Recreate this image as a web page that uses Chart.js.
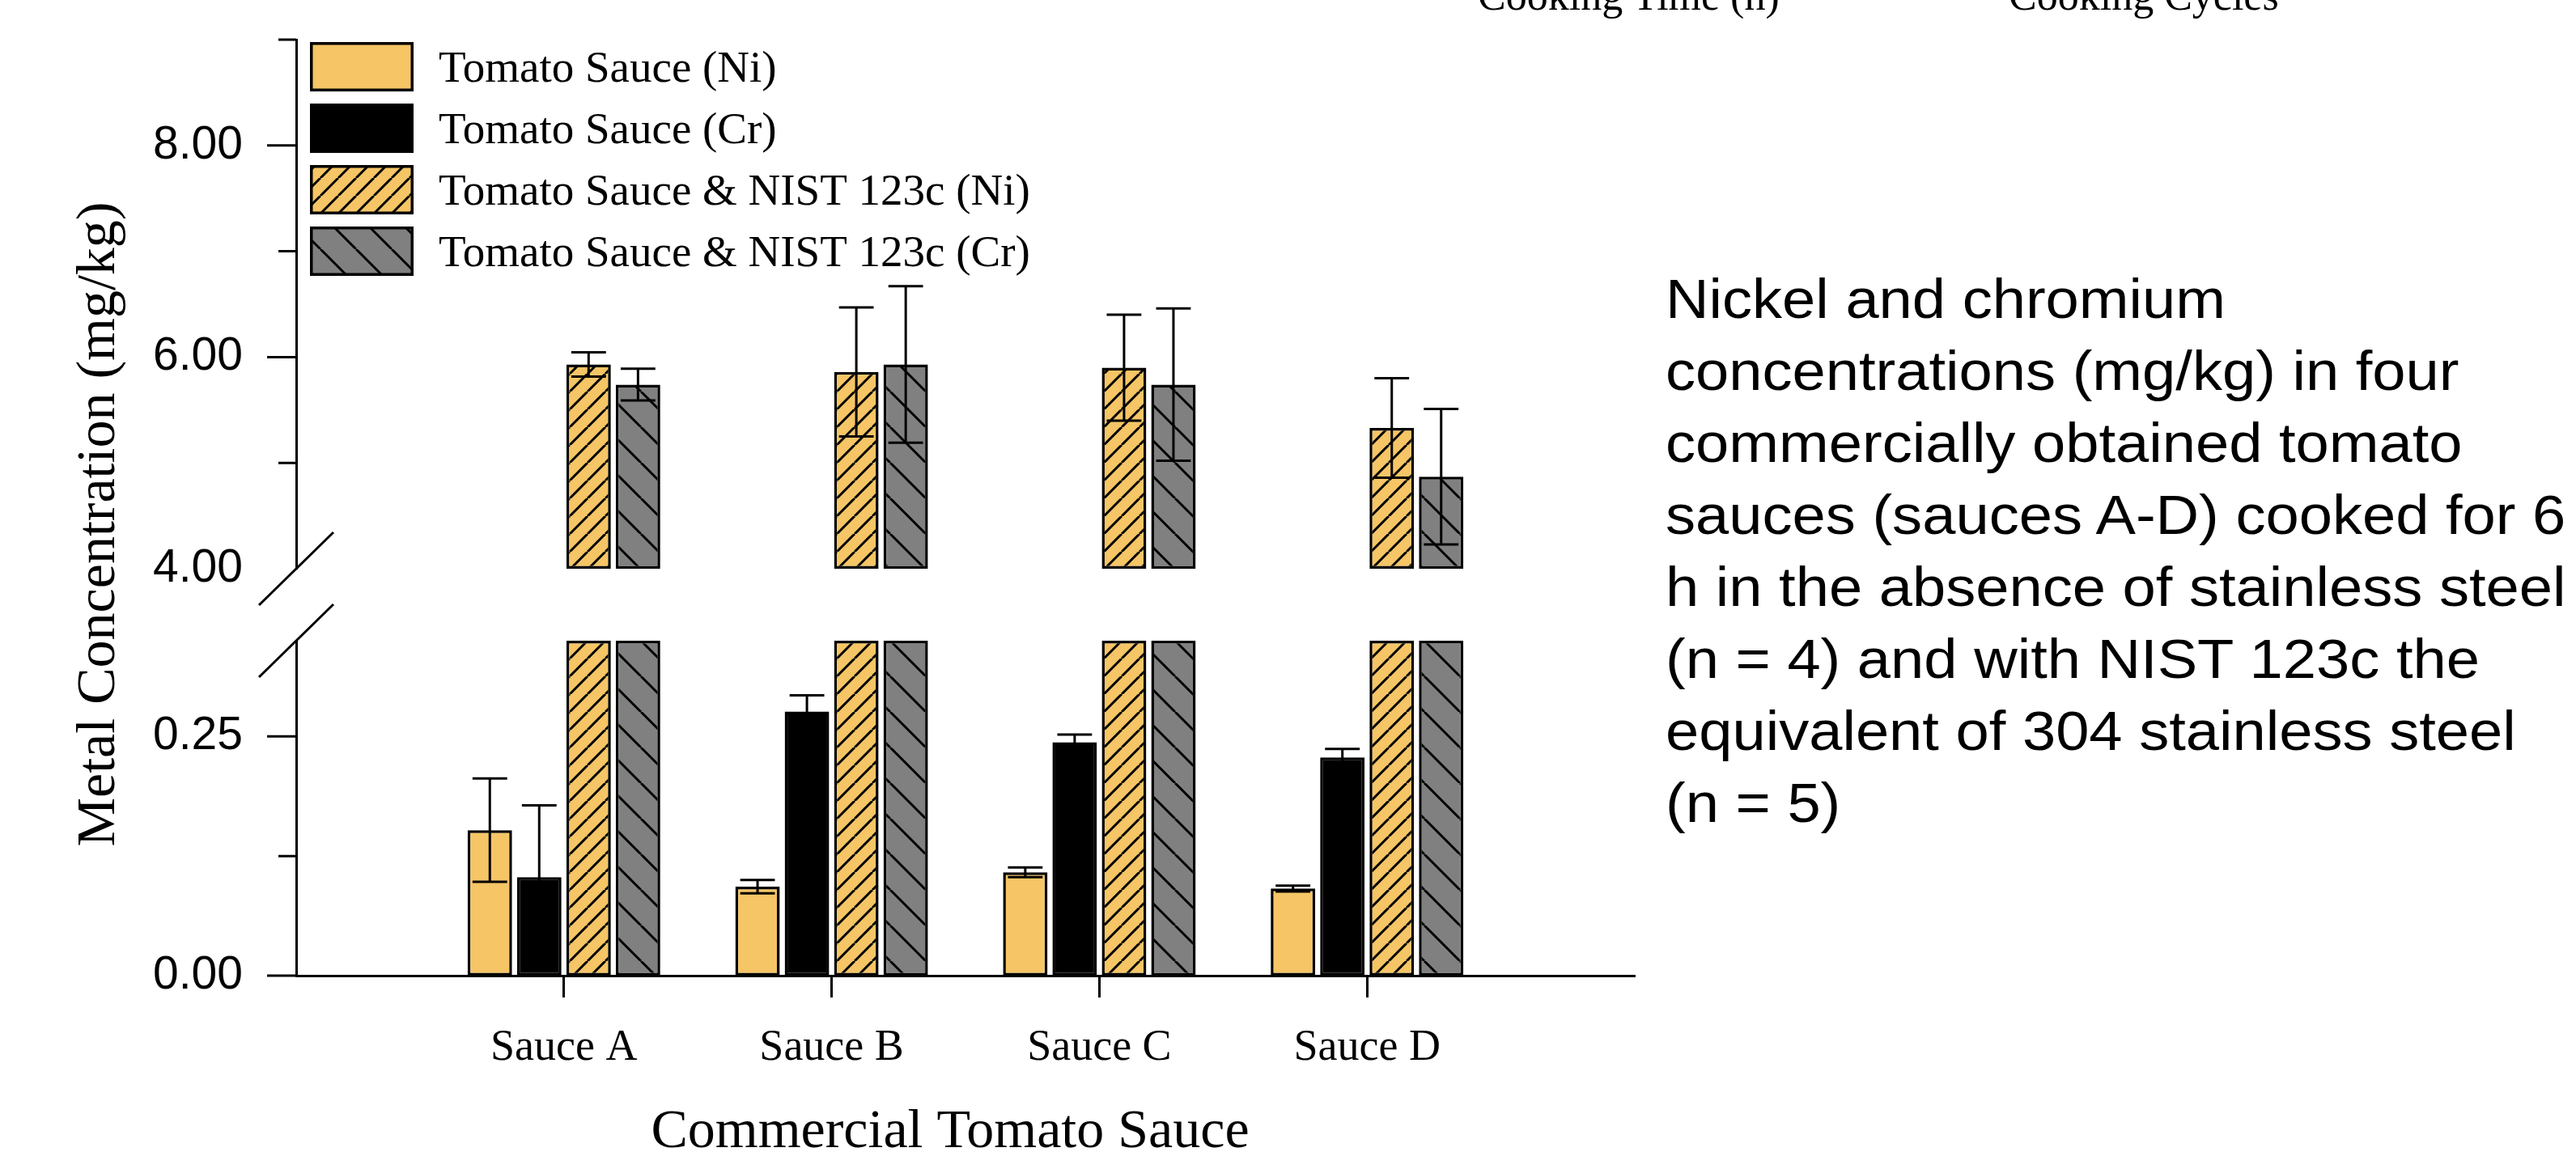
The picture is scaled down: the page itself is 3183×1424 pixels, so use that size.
<!DOCTYPE html>
<html>
<head>
<meta charset="utf-8">
<title>Metal concentration in tomato sauces</title>
<script src="https://cdn.jsdelivr.net/npm/chart.js@4.4.0/dist/chart.umd.min.js"></script>
<style>
  html, body { margin: 0; padding: 0; background: #fff; }
  #wrap { position: relative; width: 3183px; height: 1424px; overflow: hidden; background: #fff; }
  #chart { position: absolute; left: 0; top: 0; }
  .note { position: absolute; white-space: nowrap; color: #000; }
  #caption {
    left: 2058px; top: 325px;
    font-family: "Liberation Sans", Arial, sans-serif; font-size: 68px; line-height: 89px;
    transform: scaleX(1.09); transform-origin: 0 0;
  }
  .topLabel { top: -31px; font-family: "Liberation Serif", "Times New Roman", serif; font-size: 52px; line-height: 52px; }
</style>
</head>
<body>
<div id="wrap">
  <canvas id="chart" width="3183" height="1424"></canvas>
  <div class="note topLabel" style="left:1826px">Cooking Time (h)</div>
  <div class="note topLabel" style="left:2482px">Cooking Cycles</div>
  <div class="note" id="caption">Nickel and chromium<br>concentrations (mg/kg) in four<br>commercially obtained tomato<br>sauces (sauces A-D) cooked for 6<br>h in the absence of stainless steel<br>(n = 4) and with NIST 123c the<br>equivalent of 304 stainless steel<br>(n = 5)</div>
</div>
<script>
// data (mg/kg, mean and error)
const categories = ['Sauce A', 'Sauce B', 'Sauce C', 'Sauce D'];
const seriesLabels = ['Tomato Sauce (Ni)', 'Tomato Sauce (Cr)', 'Tomato Sauce & NIST 123c (Ni)', 'Tomato Sauce & NIST 123c (Cr)'];

const niSauce = [0.152, 0.093, 0.108, 0.091];
const niSauceErr = [0.054, 0.007, 0.005, 0.003];
const crSauce = [0.103, 0.276, 0.244, 0.228];
const crSauceErr = [0.075, 0.017, 0.008, 0.009];
const niNist = [5.93, 5.86, 5.90, 5.33];
const niNistErr = [0.115, 0.61, 0.50, 0.47];
const crNist = [5.74, 5.93, 5.74, 4.87];
const crNistErr = [0.15, 0.74, 0.72, 0.64];

// broken y axis: lower and upper segment
const lowRange = [0, 0.35];
const highRange = [4, 9];
const lowLabelTicks = [0, 0.25];
const lowMajorTicks = [0, 0.25];
const lowMinorTicks = [0.125];
const highLabelTicks = [4, 6, 8];
const highMajorTicks = [6, 8];
const highMinorTicks = [5, 7, 9];

const ORANGE = '#F5C566';
const GREY = '#808080';
const SERIF = '"Liberation Serif", "Times New Roman", serif';
const SANS = '"Liberation Sans", Arial, sans-serif';
const AXIS_W = 366;

function makeHatch(bg, size, dir) {
    let c = document.createElement('canvas');
    c.width = size;
    c.height = size;
    let g = c.getContext('2d');
    g.fillStyle = bg;
    g.fillRect(0, 0, size, size);
    g.strokeStyle = '#000';
    g.lineWidth = 3;
    g.beginPath();
    for (let off of [-size, 0, size]) {
        if (dir === '/') {
            g.moveTo(off, size);
            g.lineTo(off + size, 0);
        } else {
            g.moveTo(off, 0);
            g.lineTo(off + size, size);
        }
    }
    g.stroke();
    return g.createPattern(c, 'repeat');
}

const orangeHatch = makeHatch(ORANGE, 22, '/');
const greyHatch = makeHatch(GREY, 44, '\\');

// category axis has an empty slot at each end
const xLabels = ['', ...categories, ''];
function lowBars(vals) {
    return [null, ...vals.map(v => [lowRange[0], Math.min(v, lowRange[1])]), null];
}
function highBars(vals) {
    return [null, ...vals.map(v => [highRange[0], v]), null];
}

function barSet(label, data, bg, stack, axis, extra) {
    return Object.assign({
        label: label,
        data: data,
        backgroundColor: bg,
        borderColor: '#000',
        borderWidth: 3.5,
        borderSkipped: false,
        stack: stack,
        yAxisID: axis,
        categoryPercentage: 0.738,
        barPercentage: 0.9
    }, extra || {});
}

const datasets = [
    barSet(seriesLabels[0], lowBars(niSauce), ORANGE, 'ni', 'yLow', {values: niSauce, errors: niSauceErr, inLegend: true}),
    barSet(seriesLabels[1], lowBars(crSauce), '#000', 'cr', 'yLow', {values: crSauce, errors: crSauceErr, inLegend: true}),
    barSet(seriesLabels[2], lowBars(niNist), orangeHatch, 'nistNi', 'yLow', {inLegend: true}),
    barSet(seriesLabels[3], lowBars(crNist), greyHatch, 'nistCr', 'yLow', {inLegend: true}),
    barSet(seriesLabels[2], highBars(niNist), orangeHatch, 'nistNi', 'yHigh', {values: niNist, errors: niNistErr}),
    barSet(seriesLabels[3], highBars(crNist), greyHatch, 'nistCr', 'yHigh', {values: crNist, errors: crNistErr})
];

/**
 * error bars on top of the bars, drawn through the y scale of each dataset
 */
const errorBars = {
    id: 'errorBars',
    afterDatasetsDraw(chart) {
        let ctx = chart.ctx;
        ctx.save();
        ctx.strokeStyle = '#000';
        ctx.lineWidth = 3;
        chart.data.datasets.forEach((ds, di) => {
            if (!ds.errors) {
                return;
            }
            let meta = chart.getDatasetMeta(di);
            let scale = chart.scales[ds.yAxisID];
            ds.values.forEach((v, i) => {
                let bar = meta.data[i + 1];
                let half = bar.width * 0.39;
                let yTop = scale.getPixelForValue(v + ds.errors[i]);
                let yBot = scale.getPixelForValue(v - ds.errors[i]);
                ctx.beginPath();
                ctx.moveTo(bar.x, yTop);
                ctx.lineTo(bar.x, yBot);
                ctx.moveTo(bar.x - half, yTop);
                ctx.lineTo(bar.x + half, yTop);
                ctx.moveTo(bar.x - half, yBot);
                ctx.lineTo(bar.x + half, yBot);
                ctx.stroke();
            });
        });
        ctx.restore();
    }
};

/**
 * y tick marks (long and short), axis break marks, axis titles and the legend
 */
const decorations = {
    id: 'decorations',
    afterDraw(chart) {
        let ctx = chart.ctx;
        let hi = chart.scales.yHigh;
        let lo = chart.scales.yLow;
        let x0 = chart.chartArea.left;
        ctx.save();
        ctx.strokeStyle = '#000';
        ctx.lineWidth = 3;
        ctx.beginPath();
        let tick = (scale, v, len) => {
            let y = scale.getPixelForValue(v);
            ctx.moveTo(x0 - len, y);
            ctx.lineTo(x0, y);
        };
        highMajorTicks.forEach(v => tick(hi, v, 36));
        highMinorTicks.forEach(v => tick(hi, v, 22));
        lowMajorTicks.forEach(v => tick(lo, v, 36));
        lowMinorTicks.forEach(v => tick(lo, v, 22));
        // break marks
        for (let y of [hi.bottom, lo.top]) {
            ctx.moveTo(x0 + 46, y - 45);
            ctx.lineTo(x0 - 46, y + 45);
        }
        ctx.stroke();

        // axis titles
        ctx.fillStyle = '#000';
        ctx.font = '68px ' + SERIF;
        ctx.textAlign = 'center';
        ctx.textBaseline = 'alphabetic';
        ctx.save();
        ctx.translate(141, 648);
        ctx.rotate(-Math.PI / 2);
        ctx.fillText('Metal Concentration (mg/kg)', 0, 0);
        ctx.restore();
        ctx.fillText('Commercial Tomato Sauce', 1174, 1418);

        // legend
        let lx = x0 + 17;
        let ly = chart.chartArea.top + 3;
        ctx.font = '55px ' + SERIF;
        ctx.textAlign = 'left';
        chart.data.datasets.filter(ds => ds.inLegend).forEach((ds, i) => {
            let y = ly + i * 76;
            ctx.fillStyle = ds.backgroundColor;
            ctx.fillRect(lx, y, 128, 61);
            ctx.lineWidth = 3.5;
            ctx.strokeRect(lx + 1.75, y + 1.75, 128 - 3.5, 61 - 3.5);
            ctx.fillStyle = '#000';
            ctx.fillText(ds.label, lx + 159, y + 49);
        });
        ctx.restore();
    }
};

// tick marks are drawn by the plugin; the hidden tick length only spaces the labels
const yCommon = {
    type: 'linear',
    position: 'left',
    stack: 'v',
    stacked: false,
    grid: {display: false, drawTicks: true, tickLength: 66},
    border: {display: true, color: '#000', width: 3},
    afterFit: s => { s.width = AXIS_W; },
    ticks: {
        color: '#000',
        padding: 0,
        font: {family: SANS, size: 57},
        callback: v => Number(v).toFixed(2)
    }
};

new Chart(document.getElementById('chart'), {
    type: 'bar',
    data: {labels: xLabels, datasets: datasets},
    options: {
        responsive: false,
        animation: false,
        events: [],
        layout: {padding: {left: 0, top: 49, right: 1163, bottom: 96}},
        plugins: {legend: {display: false}, tooltip: {enabled: false}},
        scales: {
            x: {
                type: 'category',
                offset: false,
                stacked: true,
                grid: {
                    display: true,
                    offset: false,
                    drawOnChartArea: false,
                    drawTicks: true,
                    tickLength: 27,
                    tickWidth: 3,
                    tickColor: c => (c.index >= 1 && c.index <= categories.length) ? '#000' : 'rgba(0,0,0,0)'
                },
                border: {display: true, color: '#000', width: 3},
                afterFit: s => { s.height = 122; },
                ticks: {
                    color: '#000',
                    padding: 30,
                    autoSkip: false,
                    maxRotation: 0,
                    font: {family: SERIF, size: 54}
                }
            },
            yHigh: Object.assign({}, yCommon, {
                weight: 3,
                stackWeight: 654,
                min: highRange[0],
                max: highRange[1],
                afterBuildTicks: s => { s.ticks = highLabelTicks.map(v => ({value: v})); }
            }),
            yGap: {
                type: 'linear',
                position: 'left',
                stack: 'v',
                weight: 2,
                stackWeight: 89,
                min: 0,
                max: 1,
                grid: {display: false, drawTicks: false},
                border: {display: false},
                ticks: {display: false},
                afterFit: s => { s.width = AXIS_W; }
            },
            yLow: Object.assign({}, yCommon, {
                weight: 1,
                stackWeight: 414,
                min: lowRange[0],
                max: lowRange[1],
                afterBuildTicks: s => { s.ticks = lowLabelTicks.map(v => ({value: v})); }
            })
        }
    },
    plugins: [errorBars, decorations]
});
</script>
</body>
</html>
